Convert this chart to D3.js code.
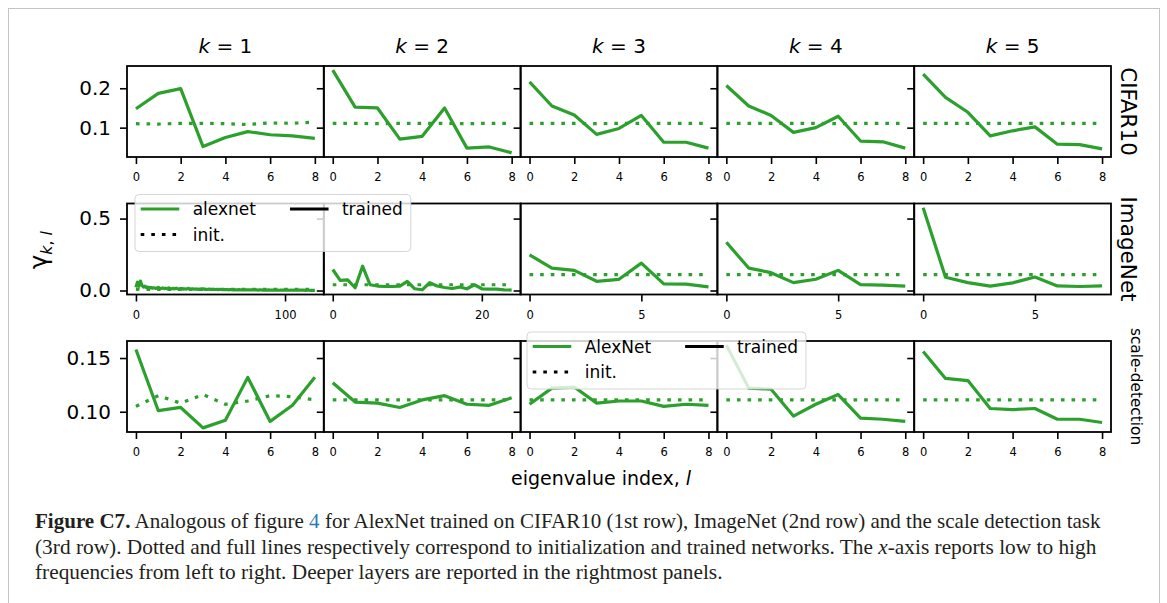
<html>
<head>
  <style>
  body { margin: 0; background: #fff; }
  text { font-family: "DejaVu Sans", sans-serif; }
  .caption { font-family: "Liberation Serif", serif; fill: #231f20; }
  </style>
</head>
<body>
  <div id="elm"></div>
  <script src="https://d3js.org/d3.v7.min.js"></script>
  <script>
  'use strict';

  var width = 1167,
      height = 603;

  var ks = [1, 2, 3, 4, 5];
  var datasets = ['CIFAR10', 'ImageNet', 'scale-detection'];

  // CIFAR10 row
  var cifarTrained = [
    [0.148, 0.187, 0.199, 0.052, 0.075, 0.090, 0.082, 0.079, 0.073],
    [0.246, 0.152, 0.150, 0.071, 0.078, 0.150, 0.048, 0.051, 0.036],
    [0.216, 0.155, 0.132, 0.083, 0.098, 0.131, 0.063, 0.063, 0.048],
    [0.207, 0.155, 0.131, 0.088, 0.100, 0.129, 0.066, 0.064, 0.048],
    [0.236, 0.177, 0.139, 0.079, 0.092, 0.102, 0.058, 0.057, 0.046]
  ];
  var cifarInit = [
    [0.110, 0.109, 0.111, 0.111, 0.110, 0.108, 0.112, 0.111, 0.114],
    [0.111, 0.111, 0.110, 0.111, 0.111, 0.111, 0.110, 0.111, 0.111],
    [0.111, 0.111, 0.111, 0.110, 0.111, 0.111, 0.111, 0.111, 0.111],
    [0.111, 0.111, 0.111, 0.111, 0.111, 0.110, 0.111, 0.111, 0.111],
    [0.111, 0.111, 0.111, 0.111, 0.111, 0.111, 0.111, 0.111, 0.111]
  ];

  // ImageNet row (k=1 has 121 eigenvalues, k=2 has 25)
  var imagenetTrained = [
    [0.022, 0.058, 0.030, 0.066, 0.036, 0.024, 0.031, 0.020, 0.024, 0.017,
     0.021, 0.016, 0.019, 0.015, 0.017, 0.022, 0.016, 0.014, 0.018, 0.013,
     0.016, 0.012, 0.019, 0.013, 0.012, 0.015, 0.011, 0.016, 0.012, 0.010,
     0.013, 0.014, 0.009, 0.012, 0.010, 0.015, 0.011, 0.009, 0.012, 0.010,
     0.009, 0.011, 0.008, 0.010, 0.009, 0.012, 0.008, 0.009, 0.007, 0.010,
     0.008, 0.007, 0.009, 0.007, 0.008, 0.006, 0.008, 0.007, 0.006, 0.007,
     0.006, 0.007, 0.005, 0.006, 0.006, 0.005, 0.006, 0.005, 0.005, 0.006,
     0.005, 0.004, 0.005, 0.005, 0.004, 0.005, 0.004, 0.004, 0.005, 0.004,
     0.004, 0.004, 0.003, 0.004, 0.004, 0.003, 0.004, 0.003, 0.003, 0.004,
     0.003, 0.003, 0.003, 0.004, 0.003, 0.003, 0.002, 0.003, 0.003, 0.003,
     0.003, 0.002, 0.003, 0.002, 0.003, 0.002, 0.002, 0.003, 0.002, 0.002,
     0.002, 0.002, 0.002, 0.002, 0.001, 0.002, 0.002, 0.001, 0.002, 0.001, 0.001],
    [0.146, 0.070, 0.074, 0.019, 0.169, 0.040, 0.031, 0.028, 0.028, 0.031,
     0.063, 0.012, 0.005, 0.054, 0.031, 0.021, 0.014, 0.024, 0.012, 0.040,
     0.012, 0.010, 0.010, 0.005, 0.003],
    [0.248, 0.156, 0.140, 0.064, 0.078, 0.190, 0.046, 0.044, 0.025],
    [0.335, 0.156, 0.124, 0.055, 0.078, 0.140, 0.041, 0.037, 0.030],
    [0.576, 0.092, 0.055, 0.030, 0.053, 0.094, 0.032, 0.028, 0.032]
  ];
  var imagenetInit = [
    [0.009, 0.008, 0.009, 0.008, 0.008, 0.009, 0.008, 0.008, 0.009, 0.008,
     0.008, 0.008, 0.009, 0.008, 0.008, 0.008, 0.009, 0.008, 0.008, 0.008,
     0.008, 0.009, 0.008, 0.008, 0.008, 0.008, 0.008, 0.009, 0.008, 0.008,
     0.008, 0.008, 0.008, 0.008, 0.009, 0.008, 0.008, 0.008, 0.008, 0.008,
     0.008, 0.008, 0.009, 0.008, 0.008, 0.008, 0.008, 0.008, 0.008, 0.009,
     0.008, 0.008, 0.008, 0.008, 0.008, 0.008, 0.009, 0.008, 0.008, 0.008,
     0.008, 0.008, 0.008, 0.008, 0.008, 0.008, 0.008, 0.009, 0.008, 0.008,
     0.008, 0.008, 0.008, 0.008, 0.008, 0.008, 0.008, 0.008, 0.008, 0.008,
     0.008, 0.009, 0.008, 0.008, 0.008, 0.008, 0.008, 0.008, 0.008, 0.008,
     0.008, 0.008, 0.008, 0.008, 0.008, 0.008, 0.008, 0.008, 0.009, 0.008,
     0.008, 0.008, 0.008, 0.008, 0.008, 0.008, 0.008, 0.008, 0.008, 0.008,
     0.008, 0.008, 0.008, 0.008, 0.008, 0.008, 0.008, 0.008, 0.008, 0.008, 0.008],
    [0.040, 0.040, 0.040, 0.040, 0.040, 0.040, 0.040, 0.040, 0.040, 0.040,
     0.040, 0.040, 0.040, 0.040, 0.040, 0.040, 0.040, 0.040, 0.040, 0.040,
     0.040, 0.040, 0.040, 0.040, 0.040],
    [0.111, 0.111, 0.111, 0.111, 0.111, 0.111, 0.111, 0.111, 0.111],
    [0.111, 0.111, 0.111, 0.111, 0.111, 0.111, 0.111, 0.111, 0.111],
    [0.111, 0.111, 0.111, 0.111, 0.111, 0.111, 0.111, 0.111, 0.111]
  ];

  // scale-detection row
  var scaleTrained = [
    [0.158, 0.101, 0.104, 0.085, 0.092, 0.132, 0.091, 0.106, 0.132],
    [0.127, 0.109, 0.108, 0.104, 0.111, 0.115, 0.107, 0.106, 0.113],
    [0.107, 0.122, 0.123, 0.108, 0.110, 0.110, 0.105, 0.107, 0.106],
    [0.162, 0.122, 0.121, 0.096, 0.107, 0.116, 0.094, 0.093, 0.091],
    [0.156, 0.131, 0.129, 0.103, 0.102, 0.103, 0.093, 0.093, 0.090]
  ];
  var scaleInit = [
    [0.105, 0.115, 0.108, 0.116, 0.107, 0.110, 0.115, 0.114, 0.111],
    [0.111, 0.111, 0.111, 0.111, 0.111, 0.111, 0.111, 0.111, 0.111],
    [0.111, 0.111, 0.111, 0.111, 0.111, 0.111, 0.111, 0.111, 0.111],
    [0.111, 0.111, 0.111, 0.111, 0.111, 0.111, 0.111, 0.111, 0.111],
    [0.111, 0.111, 0.111, 0.111, 0.111, 0.111, 0.111, 0.111, 0.111]
  ];

  var yTickValues = [[0.1, 0.2], [0.0, 0.5], [0.10, 0.15]];
  var yTickFormats = ['.1f', '.1f', '.2f'];
  var xTickValues = [
    [[0, 2, 4, 6, 8], [0, 2, 4, 6, 8], [0, 2, 4, 6, 8], [0, 2, 4, 6, 8], [0, 2, 4, 6, 8]],
    [[0, 100], [0, 20], [0, 5], [0, 5], [0, 5]],
    [[0, 2, 4, 6, 8], [0, 2, 4, 6, 8], [0, 2, 4, 6, 8], [0, 2, 4, 6, 8], [0, 2, 4, 6, 8]]
  ];
  var legendLabels = [['alexnet', 'init.', 'trained'], ['AlexNet', 'init.', 'trained']];

  var rows = [
    { trained: cifarTrained, init: cifarInit },
    { trained: imagenetTrained, init: imagenetInit },
    { trained: scaleTrained, init: scaleInit }
  ];

  var green = '#2ca02c';
  var lw = 3.2, dots = '3.6,7';
  var left = 127, panelW = 196.8, panelH = 91;
  var rowTop = [66, 203.5, 341];

  var svg = d3.select('#elm').append('svg').attr('width', width).attr('height', height);

  // page frame
  svg.append('rect').attr('x', 8.5).attr('y', 8.5).attr('width', 1151).attr('height', 640)
    .attr('fill', 'none').attr('stroke', '#c4c4c4').attr('stroke-width', 1);

  function pad(ext) {
    var r = ext[1] - ext[0];
    return [ext[0] - 0.05 * r, ext[1] + 0.05 * r];
  }

  var line = d3.line();

  rows.forEach(function(row, ri) {
    var all = d3.merge(row.trained.concat(row.init));
    var y = d3.scaleLinear().domain(pad(d3.extent(all))).range([rowTop[ri] + panelH, rowTop[ri]]);

    ks.forEach(function(k, ci) {
      var x0 = left + ci * panelW;
      var n = row.trained[ci].length;
      var x = d3.scaleLinear().domain(pad([0, n - 1])).range([x0, x0 + panelW]);
      var g = svg.append('g');

      line.x(function(d, i) { return x(i); }).y(function(d) { return y(d); });

      g.append('path').attr('d', line(row.init[ci])).attr('fill', 'none')
        .attr('stroke', green).attr('stroke-width', lw).attr('stroke-dasharray', dots);
      g.append('path').attr('d', line(row.trained[ci])).attr('fill', 'none')
        .attr('stroke', green).attr('stroke-width', lw).attr('stroke-linejoin', 'round');

      // x axis
      var xa = d3.axisBottom(x).tickValues(xTickValues[ri][ci]).tickSize(7).tickPadding(9)
        .tickFormat(d3.format('d'));
      var gx = g.append('g').attr('transform', 'translate(0,' + (rowTop[ri] + panelH) + ')').call(xa);
      gx.select('.domain').remove();
      gx.selectAll('line').attr('stroke', '#000').attr('stroke-width', 1.6);
      gx.selectAll('text').attr('font-size', 11.5).attr('font-family', 'DejaVu Sans').attr('fill', '#000');

      // y axis
      var ya = d3.axisLeft(y).tickValues(yTickValues[ri]).tickSize(7).tickPadding(9)
        .tickFormat(ci === 0 ? d3.format(yTickFormats[ri]) : '');
      var gy = g.append('g').attr('transform', 'translate(' + x0 + ',0)').call(ya);
      gy.select('.domain').remove();
      gy.selectAll('line').attr('stroke', '#000').attr('stroke-width', 1.6);
      gy.selectAll('text').attr('font-size', 20).attr('font-family', 'DejaVu Sans').attr('fill', '#000');

      g.append('rect').attr('x', x0).attr('y', rowTop[ri]).attr('width', panelW).attr('height', panelH)
        .attr('fill', 'none').attr('stroke', '#000').attr('stroke-width', 1.8);

      if (ri === 0) {
        var t = svg.append('text').attr('x', x0 + panelW / 2).attr('y', 53)
          .attr('text-anchor', 'middle').attr('font-size', 20);
        t.append('tspan').attr('font-style', 'italic').text('k');
        t.append('tspan').text(' = ' + k);
      }
    });

    svg.append('text')
      .attr('transform', 'translate(' + (ri === 2 ? 1131 : 1121) + ',' + (rowTop[ri] + panelH / 2) + ') rotate(90)')
      .attr('text-anchor', 'middle').attr('font-size', ri === 2 ? 15.3 : 21.5).text(datasets[ri]);
  });

  // axis labels
  var yl = svg.append('text').attr('transform', 'translate(47,250) rotate(-90)')
    .attr('text-anchor', 'middle').attr('font-size', 24);
  yl.append('tspan').text('\u03b3');
  yl.append('tspan').attr('font-size', 16).attr('dy', 5).attr('font-style', 'italic').text('k');
  yl.append('tspan').attr('font-size', 16).text(', ');
  yl.append('tspan').attr('font-size', 16).attr('font-style', 'italic').text('l');

  var xl = svg.append('text').attr('x', 601).attr('y', 485).attr('text-anchor', 'middle').attr('font-size', 19);
  xl.append('tspan').text('eigenvalue index, ');
  xl.append('tspan').attr('font-style', 'italic').text('l');

  // legends
  function legend(labels, bx, by) {
    var g = svg.append('g');
    var box = g.append('rect').attr('x', bx).attr('y', by).attr('rx', 4).attr('height', 57)
      .attr('fill', '#fff').attr('fill-opacity', 0.8).attr('stroke', '#ccc').attr('stroke-opacity', 0.8);
    var r1 = by + 14.5, r2 = by + 40;
    var hx = bx + 5.7, hl = 38.6, tp = 13.4;
    g.append('line').attr('x1', hx).attr('x2', hx + hl).attr('y1', r1).attr('y2', r1)
      .attr('stroke', green).attr('stroke-width', lw);
    g.append('line').attr('x1', hx).attr('x2', hx + hl).attr('y1', r2).attr('y2', r2)
      .attr('stroke', '#000').attr('stroke-width', lw).attr('stroke-dasharray', dots);
    var t1 = g.append('text').attr('x', hx + hl + tp).attr('y', r1 + 6).attr('font-size', 17).text(labels[0]);
    var t2 = g.append('text').attr('x', hx + hl + tp).attr('y', r2 + 6).attr('font-size', 17).text(labels[1]);
    var w1 = Math.max(t1.node().getComputedTextLength(), t2.node().getComputedTextLength());
    var c2 = hx + hl + tp + w1 + 34;
    g.append('line').attr('x1', c2).attr('x2', c2 + hl).attr('y1', r1).attr('y2', r1)
      .attr('stroke', '#000').attr('stroke-width', lw);
    var t3 = g.append('text').attr('x', c2 + hl + tp).attr('y', r1 + 6).attr('font-size', 17).text(labels[2]);
    box.attr('width', c2 + hl + tp + t3.node().getComputedTextLength() + 8 - bx);
  }
  legend(legendLabels[0], 135, 194.5);
  legend(legendLabels[1], 527, 332);

  // caption
  var capLines = [
    [['Figure C7.', 'bold'], [' Analogous of figure ', ''], ['4', 'link'],
     [' for AlexNet trained on CIFAR10 (1st row), ImageNet (2nd row) and the scale detection task', '']],
    [['(3rd row). Dotted and full lines respectively correspond to initialization and trained networks. The ', ''],
     ['x', 'italic'], ['-axis reports low to high', '']],
    [['frequencies from left to right. Deeper layers are reported in the rightmost panels.', '']]
  ];
  var capWidths = [1066, 1062, 688];
  capLines.forEach(function(parts, i) {
    var t = svg.append('text').attr('class', 'caption').attr('font-size', 20);
    parts.forEach(function(p) {
      var s = t.append('tspan').text(p[0]);
      if (p[1] === 'bold') s.attr('font-weight', 'bold');
      if (p[1] === 'italic') s.attr('font-style', 'italic');
      if (p[1] === 'link') s.attr('fill', '#2a7ab8');
    });
    var w = t.node().getComputedTextLength();
    t.attr('transform', 'translate(35,' + (528 + i * 25.5) + ') scale(' + (capWidths[i] / w) + ',1)');
  });
  </script>
</body>
</html>
